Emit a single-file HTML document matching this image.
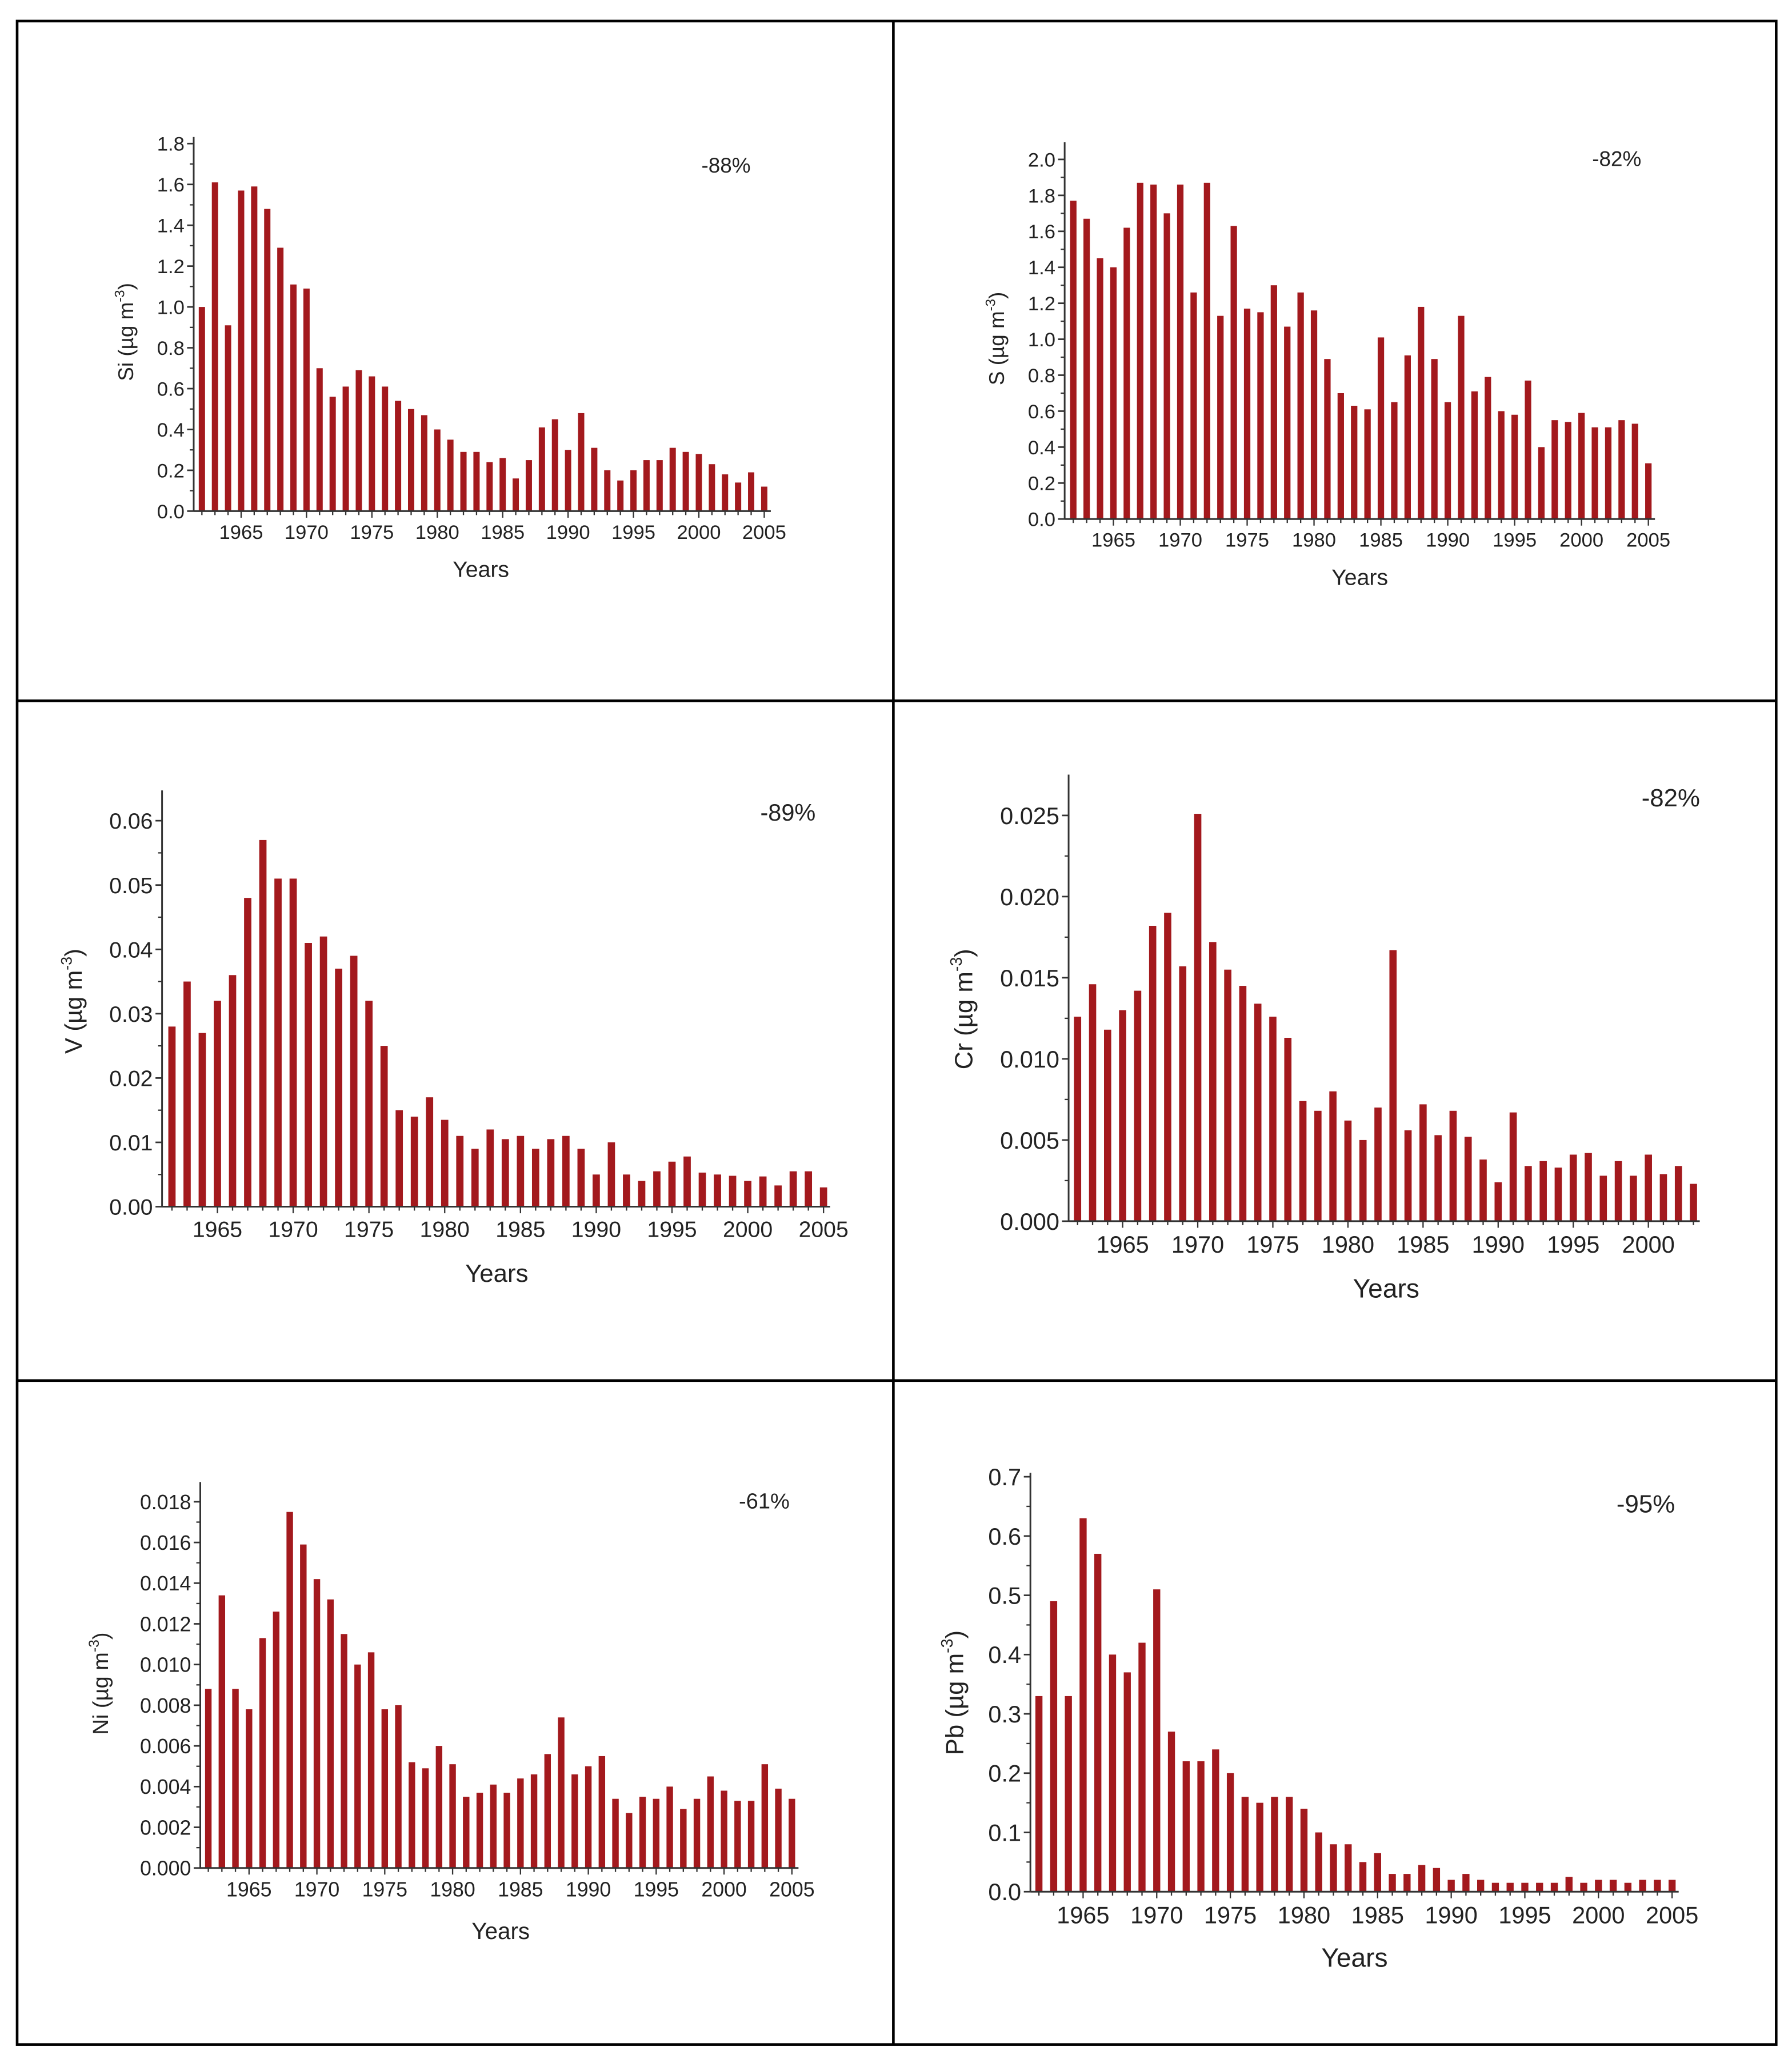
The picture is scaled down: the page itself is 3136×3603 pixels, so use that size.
<!DOCTYPE html>
<html>
<head>
<meta charset="utf-8">
<style>
  html,body{margin:0;padding:0;background:#fff;}
  svg{display:block;}
  text{font-family:"Liberation Sans",Arial,sans-serif;fill:#222;}
</style>
</head>
<body>
<svg id="fig" width="3136" height="3603" viewBox="0 0 1360 1563" preserveAspectRatio="none" xmlns="http://www.w3.org/2000/svg">
  <rect x="0" y="0" width="1360" height="1563" fill="#fff"/>
  <g stroke="#000" stroke-width="2" fill="none">
    <rect x="13" y="16" width="1335" height="1536"/>
    <line x1="678" y1="16" x2="678" y2="1552"/>
    <line x1="13" y1="532" x2="1348" y2="532"/>
    <line x1="13" y1="1048" x2="1348" y2="1048"/>
  </g>
</svg>
<script>
const years44 = [];
for (let y = 1962; y <= 2005; y++) years44.push(y);
const years42 = years44.slice(0, 42);
const xTickYears = [1965,1970,1975,1980,1985,1990,1995,2000,2005];
const xTickYearsCr = [1965,1970,1975,1980,1985,1990,1995,2000];

const siValues = [1.0,1.61,0.91,1.57,1.59,1.48,1.29,1.11,1.09,0.70,0.56,0.61,0.69,0.66,0.61,0.54,0.50,0.47,0.40,0.35,0.29,0.29,0.24,0.26,0.16,0.25,0.41,0.45,0.30,0.48,0.31,0.20,0.15,0.20,0.25,0.25,0.31,0.29,0.28,0.23,0.18,0.14,0.19,0.12];
const sValues = [1.77,1.67,1.45,1.40,1.62,1.87,1.86,1.70,1.86,1.26,1.87,1.13,1.63,1.17,1.15,1.30,1.07,1.26,1.16,0.89,0.70,0.63,0.61,1.01,0.65,0.91,1.18,0.89,0.65,1.13,0.71,0.79,0.60,0.58,0.77,0.40,0.55,0.54,0.59,0.51,0.51,0.55,0.53,0.31];
const vValues = [0.028,0.035,0.027,0.032,0.036,0.048,0.057,0.051,0.051,0.041,0.042,0.037,0.039,0.032,0.025,0.015,0.014,0.017,0.0135,0.011,0.009,0.012,0.0105,0.011,0.009,0.0105,0.011,0.009,0.005,0.010,0.005,0.004,0.0055,0.007,0.0078,0.0053,0.005,0.0048,0.004,0.0047,0.0033,0.0055,0.0055,0.003];
const crValues = [0.0126,0.0146,0.0118,0.0130,0.0142,0.0182,0.0190,0.0157,0.0251,0.0172,0.0155,0.0145,0.0134,0.0126,0.0113,0.0074,0.0068,0.0080,0.0062,0.0050,0.0070,0.0167,0.0056,0.0072,0.0053,0.0068,0.0052,0.0038,0.0024,0.0067,0.0034,0.0037,0.0033,0.0041,0.0042,0.0028,0.0037,0.0028,0.0041,0.0029,0.0034,0.0023];
const niValues = [0.0088,0.0134,0.0088,0.0078,0.0113,0.0126,0.0175,0.0159,0.0142,0.0132,0.0115,0.0100,0.0106,0.0078,0.0080,0.0052,0.0049,0.0060,0.0051,0.0035,0.0037,0.0041,0.0037,0.0044,0.0046,0.0056,0.0074,0.0046,0.0050,0.0055,0.0034,0.0027,0.0035,0.0034,0.0040,0.0029,0.0034,0.0045,0.0038,0.0033,0.0033,0.0051,0.0039,0.0034];
const pbValues = [0.33,0.49,0.33,0.63,0.57,0.40,0.37,0.42,0.51,0.27,0.22,0.22,0.24,0.20,0.16,0.15,0.16,0.16,0.14,0.10,0.08,0.08,0.05,0.065,0.03,0.03,0.045,0.04,0.02,0.03,0.02,0.015,0.015,0.015,0.015,0.015,0.025,0.015,0.02,0.02,0.015,0.02,0.02,0.02];

const siTicks = ["0.0","0.2","0.4","0.6","0.8","1.0","1.2","1.4","1.6","1.8"];
const sTicks = ["0.0","0.2","0.4","0.6","0.8","1.0","1.2","1.4","1.6","1.8","2.0"];
const vTicks = ["0.00","0.01","0.02","0.03","0.04","0.05","0.06"];
const crTicks = ["0.000","0.005","0.010","0.015","0.020","0.025"];
const niTicks = ["0.000","0.002","0.004","0.006","0.008","0.010","0.012","0.014","0.016","0.018"];
const pbTicks = ["0.0","0.1","0.2","0.3","0.4","0.5","0.6","0.7"];

const NS = "http://www.w3.org/2000/svg";
const svg = document.getElementById("fig");
function mk(tag, attrs, parent) {
  const e = document.createElementNS(NS, tag);
  for (const k in attrs) e.setAttribute(k, attrs[k]);
  parent.appendChild(e);
  return e;
}

function drawChart(cfg) {
  const g = mk("g", {}, svg);
  
  
  const tv = cfg.ticks.map(Number);
  const yMax = tv[tv.length - 1];
  const yScale = v => cfg.y0 - (v / yMax) * (cfg.y0 - cfg.yTopTick);
  const xScale = yr => cfg.x1965 + (yr - 1965) * cfg.pxYear;
  const bw = cfg.pxYear * 0.48;
  // bars
  cfg.values.forEach((v, i) => {
    const x = xScale(cfg.years[i]);
    const r = mk("rect", {x: x - bw / 2, y: yScale(v), width: bw, height: cfg.y0 - yScale(v), fill: "#a3191d"}, g);
    
    
  });
  // axes
  const ya = mk("line", {x1: cfg.x0, y1: cfg.yAxisTop, x2: cfg.x0, y2: cfg.y0, stroke: "#333", "stroke-width": 1.3}, g);
  
  
  const xa = mk("line", {x1: cfg.x0, y1: cfg.y0, x2: cfg.xAxisEnd, y2: cfg.y0, stroke: "#333", "stroke-width": 1.3}, g);
  
  
  // y ticks
  tv.forEach((v, i) => {
    const y = yScale(v);
    mk("line", {x1: cfg.x0 - 5, y1: y, x2: cfg.x0, y2: y, stroke: "#333", "stroke-width": 1.2}, g);
    if (i < tv.length - 1) {
      const ym = yScale((v + tv[i + 1]) / 2);
      mk("line", {x1: cfg.x0 - 3, y1: ym, x2: cfg.x0, y2: ym, stroke: "#333", "stroke-width": 1}, g);
    }
    const t = mk("text", {x: cfg.x0 - 7, y: y + cfg.fs * 0.36, "text-anchor": "end", "font-size": cfg.fs}, g);
    t.textContent = cfg.ticks[i];
    
    
  });
  // x ticks (minor every year, major every 5)
  for (let yr = cfg.years[0]; yr <= cfg.years[cfg.years.length - 1]; yr++) {
    const x = xScale(yr);
    const major = yr % 5 === 0;
    mk("line", {x1: x, y1: cfg.y0, x2: x, y2: cfg.y0 + (major ? 5 : 3), stroke: "#333", "stroke-width": 1}, g);
  }
  cfg.xTicks.forEach(yr => {
    const t = mk("text", {x: xScale(yr), y: cfg.y0 + 6 + cfg.fs, "text-anchor": "middle", "font-size": cfg.fs}, g);
    t.textContent = String(yr);
    
    
  });
  // x title
  const xt = mk("text", {x: cfg.xTitle[0], y: cfg.xTitle[1], "text-anchor": "middle", "font-size": cfg.fs + 2}, g);
  xt.textContent = "Years";
  
  
  // y title
  const yt = mk("text", {x: 0, y: 0, "text-anchor": "middle", "font-size": cfg.fs + 1, transform: "translate(" + cfg.yTitle[0] + "," + cfg.yTitle[1] + ") rotate(-90)"}, g);
  
  
  const a = mk("tspan", {}, yt); a.textContent = cfg.label + " (\u00b5g m";
  const b = mk("tspan", {"font-size": (cfg.fs + 1) * 0.65, dy: -(cfg.fs * 0.45)}, yt); b.textContent = "-3";
  const c = mk("tspan", {dy: cfg.fs * 0.45}, yt); c.textContent = ")";
  // percent
  const p = mk("text", {x: cfg.pct[0], y: cfg.pct[1], "text-anchor": "middle", "font-size": cfg.fs + 1}, g);
  p.textContent = cfg.pctText;
  
  
}

drawChart({name:"si", label:"Si", values:siValues, years:years44, ticks:siTicks, xTicks:xTickYears,
  x0:147, y0:388, yTopTick:109, yAxisTop:104, xAxisEnd:585, x1965:183, pxYear:9.925, fs:15,
  xTitle:[365,438], yTitle:[101,252], pct:[551,131], pctText:"-88%"});
drawChart({name:"s", label:"S", values:sValues, years:years44, ticks:sTicks, xTicks:xTickYears,
  x0:808, y0:394, yTopTick:121, yAxisTop:108, xAxisEnd:1256, x1965:845, pxYear:10.15, fs:15,
  xTitle:[1032,444], yTitle:[762,257], pct:[1227,126], pctText:"-82%"});
drawChart({name:"v", label:"V", values:vValues, years:years44, ticks:vTicks, xTicks:xTickYears,
  x0:123, y0:916, yTopTick:623, yAxisTop:600, xAxisEnd:630, x1965:165, pxYear:11.5, fs:17,
  xTitle:[377,973], yTitle:[62,760], pct:[598,623], pctText:"-89%"});
drawChart({name:"cr", label:"Cr", values:crValues, years:years42, ticks:crTicks, xTicks:xTickYearsCr,
  x0:811, y0:927, yTopTick:619, yAxisTop:588, xAxisEnd:1290, x1965:852, pxYear:11.4, fs:18,
  xTitle:[1052,985], yTitle:[738,766], pct:[1268,612], pctText:"-82%"});
drawChart({name:"ni", label:"Ni", values:niValues, years:years44, ticks:niTicks, xTicks:xTickYears,
  x0:152, y0:1418, yTopTick:1140, yAxisTop:1125, xAxisEnd:606, x1965:189, pxYear:10.3, fs:15.5,
  xTitle:[380,1472], yTitle:[82,1278], pct:[580,1145], pctText:"-61%"});
drawChart({name:"pb", label:"Pb", values:pbValues, years:years44, ticks:pbTicks, xTicks:xTickYears,
  x0:782, y0:1436, yTopTick:1121, yAxisTop:1118, xAxisEnd:1274, x1965:822, pxYear:11.175, fs:18,
  xTitle:[1028,1493], yTitle:[731,1285], pct:[1249,1148], pctText:"-95%"});
</script>
</body>
</html>
